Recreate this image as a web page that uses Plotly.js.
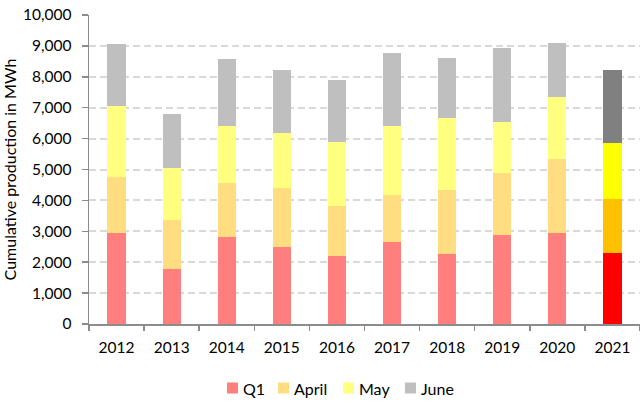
<!DOCTYPE html>
<html>
<head>
<meta charset="utf-8">
<script src="https://cdn.plot.ly/plotly-3.0.1.min.js"></script>
<style>html,body{margin:0;padding:0;background:#fff;}#chart{width:640px;height:401px;}</style>
</head>
<body>
<div id="chart"></div>
<script>
const years = ['2012','2013','2014','2015','2016','2017','2018','2019','2020','2021'];
const q1    = [2950, 1790, 2825, 2490, 2200, 2660, 2265, 2890, 2955, 2295];
const april = [1810, 1575, 1745, 1910, 1625, 1500, 2080, 1985, 2370, 1745];
const may   = [2285, 1680, 1830, 1790, 2050, 2240, 2325, 1660, 2025, 1810];
const june  = [2025, 1765, 2185, 2025, 2025, 2360, 1940, 2400, 1755, 2360];
const seriesNames = ['Q1', 'April', 'May', 'June'];

const pastColors = ['#FF7F7F', '#FFDD80', '#FFFF80', '#BFBFBF'];
const currentColors = ['#FF0000', '#FFC000', '#FFFF00', '#808080'];

const FONT = 'Lato, "Open Sans", sans-serif';
const W = 640, H = 401;
const M = {l: 89, r: 0, t: 15, b: 77};
const PW = W - M.l - M.r, PH = H - M.t - M.b;
const px2x = px => (px - M.l) / PW;
const py2y = py => (H - M.b - py) / PH;

const values = [q1, april, may, june];
const traces = values.map((v, i) => ({
  type: 'bar',
  name: seriesNames[i],
  x: years,
  y: v,
  marker: {
    color: years.map((y, j) => j === years.length - 1 ? currentColors[i] : pastColors[i]),
    line: {width: 0}
  },
  showlegend: false
}));

// custom legend (square swatch + label), laid out like the reference
const legendSwatchLeft = [227, 278, 343, 405];
const swatch = 11, legendMid = 388;
const shapes = seriesNames.map((n, i) => ({
  type: 'rect', xref: 'paper', yref: 'paper',
  x0: px2x(legendSwatchLeft[i]), x1: px2x(legendSwatchLeft[i] + swatch),
  y0: py2y(legendMid + swatch / 2), y1: py2y(legendMid - swatch / 2),
  fillcolor: pastColors[i], line: {width: 0}
}));
const annotations = seriesNames.map((n, i) => ({
  xref: 'paper', yref: 'paper',
  x: px2x(legendSwatchLeft[i] + swatch + 3), y: py2y(legendMid),
  xanchor: 'left', yanchor: 'middle', showarrow: false,
  text: n, font: {family: FONT, size: 16, color: '#000'}
}));

const layout = {
  width: W, height: H,
  margin: M,
  barmode: 'stack',
  bargap: 0.67,
  paper_bgcolor: '#ffffff',
  plot_bgcolor: '#ffffff',
  font: {family: FONT, size: 16, color: '#000000'},
  showlegend: false,
  shapes: shapes,
  annotations: annotations,
  xaxis: {
    type: 'category',
    showline: true, linecolor: '#8C8C8C', linewidth: 1.5,
    ticks: 'outside', ticklen: 5, tickcolor: '#8C8C8C', tickwidth: 1.5,
    tickson: 'boundaries',
    ticklabelstandoff: 9,
    showgrid: false, zeroline: false,
    tickfont: {family: FONT, size: 15.5, color: '#000'}
  },
  yaxis: {
    range: [0, 10000], dtick: 1000, tickformat: ',d',
    showline: true, linecolor: '#8C8C8C', linewidth: 1.5,
    ticks: 'outside', ticklen: 6, tickcolor: '#8C8C8C', tickwidth: 1.5,
    ticklabelstandoff: 7,
    showgrid: true, gridcolor: '#D9D9D9', gridwidth: 2, griddash: '7px,4px',
    zeroline: false,
    tickfont: {family: FONT, size: 15.5, color: '#000'},
    title: {text: 'Cumulative production in MWh', font: {family: FONT, size: 16, color: '#000'}, standoff: 6}
  }
};

Plotly.newPlot('chart', traces, layout, {staticPlot: true, displayModeBar: false});
</script>
</body>
</html>
